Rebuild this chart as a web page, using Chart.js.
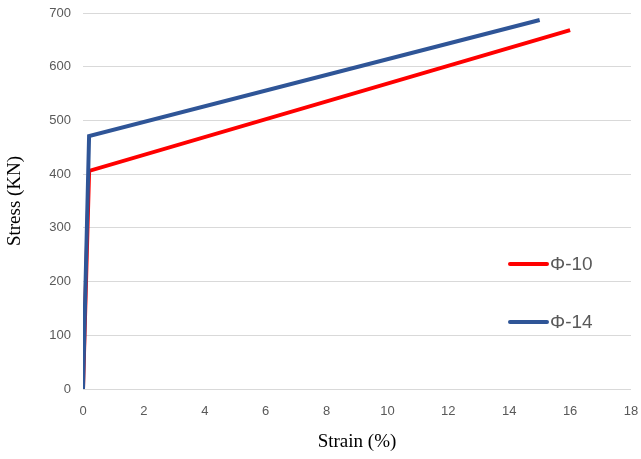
<!DOCTYPE html>
<html>
<head>
<meta charset="utf-8">
<script src="https://cdn.jsdelivr.net/npm/chart.js@4.4.0/dist/chart.umd.min.js"></script>
<style>
  html, body { margin: 0; padding: 0; background: #fff; }
  #wrap { width: 641px; height: 459px; }
</style>
</head>
<body>
<div id="wrap"><canvas id="stressChart" width="641" height="459"></canvas></div>
<script>
// strain (%) / stress (KN)
const seriesNames = ['Φ-10', 'Φ-14'];
const strain10 = [0, 0.2, 16];
const stress10 = [0, 406, 668];
const strain14 = [0, 0.2, 15];
const stress14 = [0, 471, 687];
const seriesColors = ['#ff0000', '#2f5597'];

function toPoints(xs, ys) {
    return xs.map((x, i) => ({ x: x, y: ys[i] }));
}

// legend drawn inside the plot area, like the original
const sideLegend = {
    id: 'sideLegend',
    afterDraw(chart) {
        const ctx = chart.ctx;
        const rows = [264, 322];
        ctx.save();
        seriesNames.forEach((name, i) => {
            ctx.strokeStyle = seriesColors[i];
            ctx.lineWidth = 4;
            ctx.lineCap = 'round';
            ctx.beginPath();
            ctx.moveTo(510, rows[i]);
            ctx.lineTo(547, rows[i]);
            ctx.stroke();
            ctx.fillStyle = '#595959';
            ctx.font = '19px "Liberation Sans", Arial, sans-serif';
            ctx.textBaseline = 'middle';
            ctx.fillText(name, 550, rows[i] + 1);
        });
        ctx.restore();
    }
};

const ctx = document.getElementById('stressChart').getContext('2d');
const stressChart = new Chart(ctx, {
    type: 'line',
    data: {
        datasets: [
            {
                label: seriesNames[0],
                data: toPoints(strain10, stress10),
                borderColor: seriesColors[0],
                borderWidth: 4,
                pointRadius: 0,
                tension: 0,
                order: 1
            },
            {
                label: seriesNames[1],
                data: toPoints(strain14, stress14),
                borderColor: seriesColors[1],
                borderWidth: 4,
                pointRadius: 0,
                tension: 0,
                order: 0
            }
        ]
    },
    options: {
        responsive: false,
        animation: false,
        layout: { padding: { left: 4, right: 10, top: 13, bottom: 6 } },
        plugins: {
            legend: { display: false },
            tooltip: { enabled: false }
        },
        scales: {
            x: {
                type: 'linear',
                min: 0,
                max: 18,
                grid: { display: false },
                border: { display: false },
                ticks: {
                    stepSize: 2,
                    color: '#595959',
                    padding: 7,
                    font: { family: '"Liberation Sans", Arial, sans-serif', size: 13 }
                },
                title: {
                    display: true,
                    text: 'Strain (%)',
                    color: '#000',
                    padding: { top: 4, bottom: 0 },
                    font: { family: '"Liberation Serif", "Times New Roman", serif', size: 19 }
                },
                afterFit(scale) {
                    scale.height = 64;
                    scale.paddingLeft = 0;
                    scale.paddingRight = 0;
                }
            },
            y: {
                min: 0,
                max: 700,
                grid: { color: '#d9d9d9', lineWidth: 1, drawTicks: false },
                border: { display: false },
                ticks: {
                    stepSize: 100,
                    color: '#595959',
                    padding: 12,
                    font: { family: '"Liberation Sans", Arial, sans-serif', size: 13 }
                },
                title: {
                    display: true,
                    text: 'Stress (KN)',
                    color: '#000',
                    padding: { top: 0, bottom: 4 },
                    font: { family: '"Liberation Serif", "Times New Roman", serif', size: 19 }
                },
                afterFit(scale) {
                    scale.width = 79;
                    scale.paddingTop = 0;
                    scale.paddingBottom = 0;
                }
            }
        }
    },
    plugins: [sideLegend]
});
</script>
</body>
</html>
